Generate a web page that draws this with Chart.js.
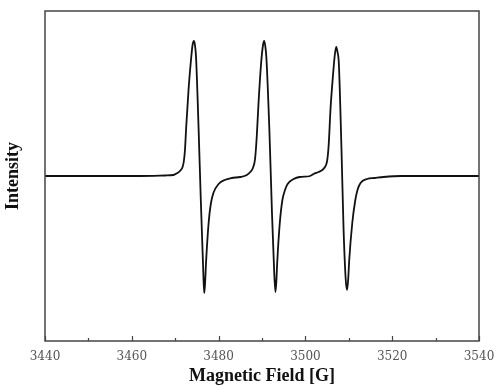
<!DOCTYPE html>
<html>
<head>
<meta charset="utf-8">
<script src="https://cdn.jsdelivr.net/npm/chart.js@4.4.1/dist/chart.umd.min.js"></script>
<style>
  html, body { margin:0; padding:0; background:#fff; }
  #wrap { width:500px; height:389px; }
</style>
</head>
<body>
<div id="wrap"><canvas id="chart" width="500" height="389"></canvas></div>
<script>
// field values (G) and signal (arb. units), one block per line
const tailField = [3440, 3455, 3462, 3467.7, 3469.6, 3470.5, 3471.1];
const tailInt   = [0, 0, 0, 0.5, 1, 3, 5];

const line1Field = [3471.7, 3472.0, 3472.25, 3472.55, 3473.1, 3473.7, 3474.0, 3474.3, 3474.55, 3474.8,
                    3475.4, 3475.9, 3476.4, 3476.55, 3476.7, 3476.9, 3477.1, 3477.7, 3478.2, 3478.8,
                    3480.0, 3481.4, 3483.0, 3485.0];
const line1Int   = [9, 15, 26, 50, 88, 119, 131, 135, 131, 119,
                    46, -24, -87, -106, -117, -106, -87, -47, -28, -17,
                    -8, -4, -2, -1];

const line2Field = [3486.5, 3487.3, 3487.9, 3488.4, 3488.8, 3489.2, 3489.8, 3490.2, 3490.5, 3490.75,
                    3491.0, 3491.7, 3492.3, 3492.8, 3493.1, 3493.3, 3493.5, 3494.1, 3494.7, 3495.3,
                    3495.9, 3497.3, 3498.7, 3501.1];
const line2Int   = [1, 4, 8, 17, 40, 73, 113, 130, 135, 130,
                    119, 46, -37, -95, -116, -106, -87, -47, -24, -14,
                    -8, -3, -1, 0];

const line3Field = [3501.9, 3503.0, 3503.9, 3504.5, 3505.0, 3505.35, 3505.8, 3506.4, 3506.8, 3507.1,
                    3507.4, 3507.7, 3508.3, 3508.8, 3509.3, 3509.6, 3509.85, 3510.1, 3510.8, 3511.5,
                    3512.0, 3512.7, 3514.2, 3516.0, 3518.0, 3522, 3540];
const line3Int   = [2, 4, 6, 9, 15, 30, 68, 103, 122, 129,
                    124, 113, 29, -54, -104, -114, -104, -84, -47, -24,
                    -14, -7, -3, -2, -1, 0, 0];

const xTicks = [3440, 3460, 3480, 3500, 3520, 3540];

const fields = [...tailField, ...line1Field, ...line2Field, ...line3Field];
const ints   = [...tailInt, ...line1Int, ...line2Int, ...line3Int];
const points = fields.map((f, i) => ({ x: f, y: ints[i] }));

// box around plot area + inward ticks on bottom axis
const framePlugin = {
  id: "frame",
  afterDraw(chart){
    const a = chart.chartArea, { ctx } = chart, xs = chart.scales.x;
    ctx.save();
    ctx.strokeStyle = "#444"; ctx.lineWidth = 1.5;
    ctx.strokeRect(a.left, a.top, a.right - a.left, a.bottom - a.top);
    ctx.lineWidth = 1.2;
    for (let v = xs.min; v <= xs.max; v += 10) {
      const px = Math.round(xs.getPixelForValue(v)) + 0.5;
      const len = (v % 20 === 0) ? 5 : 3;
      ctx.beginPath(); ctx.moveTo(px, a.bottom); ctx.lineTo(px, a.bottom - len); ctx.stroke();
    }
    ctx.restore();
  }
};

new Chart(document.getElementById("chart"), {
  type: "line",
  data: {
    datasets: [{
      data: points, borderColor: "#111", borderWidth: 1.8, pointRadius: 0,
      cubicInterpolationMode: "monotone", fill: false
    }]
  },
  options: {
    responsive: false, animation: false,
    layout: { padding: { top: 11, right: 21, left: 0, bottom: 0 } },
    plugins: { legend: { display: false }, tooltip: { enabled: false } },
    scales: {
      x: {
        type: "linear", min: 3440, max: 3540,
        afterBuildTicks: (s) => { s.ticks = xTicks.map(v => ({ value: v })); },
        afterFit: (s) => { s.height = 48; },
        grid: { display: false }, border: { display: false },
        ticks: { padding: 1, color: "#555", font: { family: "DejaVu Serif", size: 12 }, maxRotation: 0,
                 callback: (v) => String(v) },
        title: { display: true, text: "Magnetic Field [G]", color: "#111",
                 font: { family: "Liberation Serif", size: 18, weight: "bold" }, padding: { top: 0, bottom: 2 } }
      },
      y: {
        min: -165, max: 165,
        afterFit: (s) => { s.width = 45; },
        grid: { display: false }, border: { display: false },
        ticks: { display: false },
        title: { display: true, text: "Intensity", color: "#111",
                 font: { family: "Liberation Serif", size: 18, weight: "bold" }, padding: 3 }
      }
    }
  },
  plugins: [framePlugin]
});
</script>
</body>
</html>
